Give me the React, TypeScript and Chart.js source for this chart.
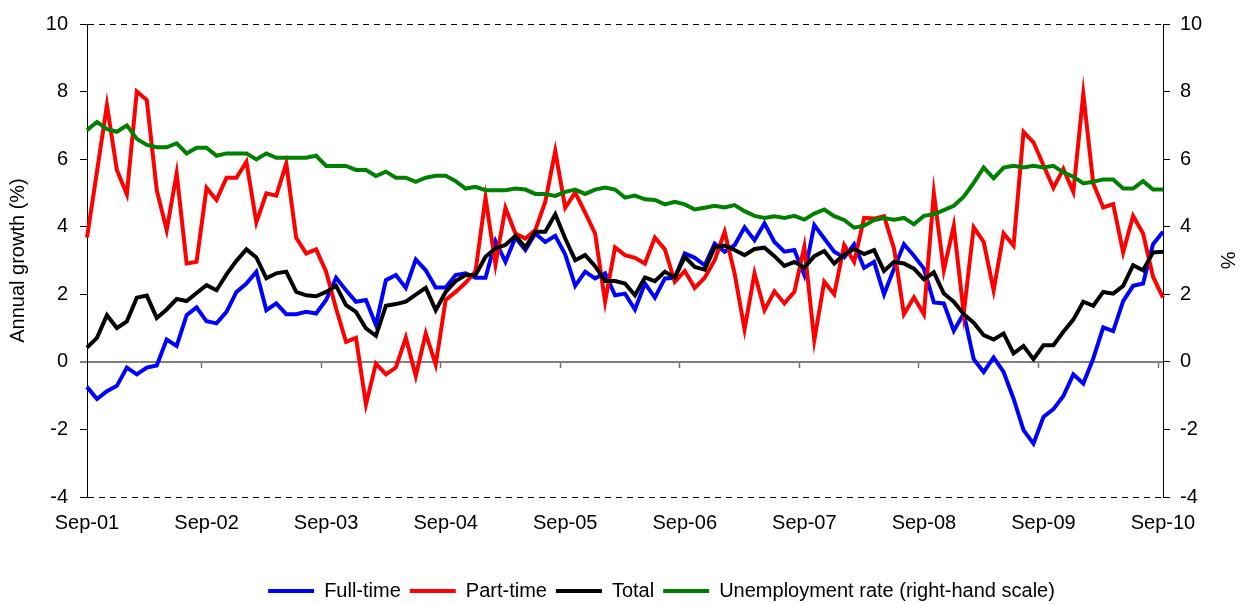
import React, { useEffect, useRef } from 'react';
import { Chart, registerables } from 'chart.js';

Chart.register(...registerables);

// ---------- data ----------
const MONTH_NAMES = ['Jan', 'Feb', 'Mar', 'Apr', 'May', 'Jun', 'Jul', 'Aug', 'Sep', 'Oct', 'Nov', 'Dec'];
const START_MONTH = 8; // Sep
const START_YEAR = 1; // 2001
const N_MONTHS = 109; // Sep-01 .. Sep-10

const categories: string[] = [];
for (let k = 0; k < N_MONTHS; k++) {
  const m = (START_MONTH + k) % 12;
  const y = START_YEAR + Math.floor((START_MONTH + k) / 12);
  categories.push(`${MONTH_NAMES[m]}-${String(y).padStart(2, '0')}`);
}
const LABEL_EVERY = 12;

const yTickMin = -4;
const yTickMax = 10;
const yTickStep = 2;

const fullTime = [
  -0.74, -1.1, -0.87, -0.71, -0.17, -0.37, -0.17, -0.11, 0.66, 0.47,
  1.38, 1.61, 1.2, 1.14, 1.48, 2.07, 2.32, 2.67, 1.53, 1.73,
  1.41, 1.41, 1.48, 1.43, 1.83, 2.49, 2.12, 1.78, 1.83, 1.09,
  2.42, 2.57, 2.19, 3.03, 2.71, 2.2, 2.2, 2.57, 2.62, 2.49,
  2.49, 3.57, 2.96, 3.68, 3.31, 3.8, 3.55, 3.73, 3.18, 2.25,
  2.67, 2.47, 2.62, 1.97, 2.02, 1.55, 2.32, 1.9, 2.47, 2.49,
  3.21, 3.08, 2.86, 3.5, 3.26, 3.45, 3.98, 3.6, 4.1, 3.55,
  3.26, 3.31, 2.57, 4.05, 3.65, 3.26, 3.09, 3.48, 2.78, 2.96,
  2.0, 2.76, 3.48, 3.14, 2.76, 1.76, 1.73, 0.92, 1.43, 0.08,
  -0.3, 0.13, -0.3, -1.09, -2.02, -2.42, -1.63, -1.4, -1.01, -0.37,
  -0.64, 0.1, 1.02, 0.91, 1.8, 2.25, 2.32, 3.48, 3.85,
];

const partTime = [
  3.68, 5.63, 7.6, 5.68, 4.96, 8.0, 7.75, 5.08, 3.9, 5.58,
  2.91, 2.96, 5.15, 4.79, 5.45, 5.45, 5.92, 4.13, 4.99, 4.92,
  5.87, 3.67, 3.21, 3.33, 2.67, 1.58, 0.59, 0.71, -1.26, -0.05,
  -0.37, -0.17, 0.72, -0.42, 0.84, -0.08, 1.83, 2.07, 2.34, 2.69,
  4.86, 2.88, 4.56, 3.8, 3.65, 3.9, 4.74, 6.24, 4.56, 5.01,
  4.42, 3.8, 1.78, 3.39, 3.16, 3.08, 2.91, 3.68, 3.33, 2.37,
  2.69, 2.19, 2.49, 3.01, 3.85, 2.62, 0.96, 2.62, 1.53, 2.09,
  1.73, 2.07, 3.41, 0.64, 2.37, 2.0, 3.46, 2.96, 4.26, 4.24,
  4.31, 3.36, 1.41, 1.91, 1.41, 4.99, 2.71, 4.03, 1.43, 3.98,
  3.55, 2.12, 3.8, 3.44, 6.81, 6.5, 5.82, 5.15, 5.71, 5.03,
  7.93, 5.28, 4.57, 4.67, 3.24, 4.32, 3.8, 2.52, 1.9,
];

const total = [
  0.42, 0.71, 1.38, 1.0, 1.2, 1.9, 1.96, 1.3, 1.55, 1.86,
  1.8, 2.04, 2.27, 2.12, 2.59, 2.99, 3.33, 3.09, 2.47, 2.62,
  2.67, 2.07, 1.97, 1.94, 2.07, 2.25, 1.68, 1.48, 0.99, 0.77,
  1.66, 1.71, 1.78, 1.99, 2.19, 1.53, 2.07, 2.39, 2.57, 2.57,
  3.11, 3.36, 3.46, 3.73, 3.39, 3.85, 3.85, 4.37, 3.65, 3.01,
  3.16, 2.83, 2.39, 2.39, 2.32, 1.97, 2.5, 2.39, 2.67, 2.49,
  3.11, 2.81, 2.73, 3.39, 3.44, 3.31, 3.16, 3.34, 3.38, 3.13,
  2.84, 2.96, 2.79, 3.13, 3.28, 2.91, 3.18, 3.34, 3.19, 3.31,
  2.69, 2.96, 2.91, 2.76, 2.44, 2.65, 2.02, 1.78, 1.41, 1.16,
  0.79, 0.66, 0.84, 0.25, 0.47, 0.08, 0.49, 0.49, 0.89, 1.25,
  1.78, 1.66, 2.07, 2.02, 2.25, 2.86, 2.71, 3.24, 3.26,
];

const unemployment = [
  6.86, 7.1, 6.89, 6.81, 7.0, 6.6, 6.42, 6.35, 6.35, 6.47,
  6.17, 6.34, 6.34, 6.1, 6.17, 6.17, 6.17, 5.99, 6.17, 6.04,
  6.04, 6.04, 6.04, 6.1, 5.8, 5.8, 5.8, 5.68, 5.68, 5.5,
  5.63, 5.45, 5.45, 5.33, 5.45, 5.51, 5.51, 5.35, 5.13, 5.18,
  5.08, 5.08, 5.08, 5.13, 5.1, 4.97, 4.97, 4.91, 5.03, 5.1,
  4.97, 5.1, 5.16, 5.1, 4.86, 4.92, 4.81, 4.79, 4.66, 4.74,
  4.66, 4.51, 4.56, 4.62, 4.57, 4.64, 4.46, 4.32, 4.26, 4.31,
  4.26, 4.32, 4.21, 4.39, 4.51, 4.31, 4.2, 3.97, 4.03, 4.2,
  4.26, 4.21, 4.26, 4.07, 4.32, 4.37, 4.49, 4.62, 4.89, 5.3,
  5.75, 5.43, 5.75, 5.8, 5.75, 5.8, 5.75, 5.8, 5.61, 5.48,
  5.28, 5.33, 5.4, 5.4, 5.13, 5.13, 5.35, 5.1, 5.1,
];

const seriesNames = ['Full-time', 'Part-time', 'Total', 'Unemployment rate (right-hand scale)'];
const axisTitleLeft = 'Annual growth (%)';
const axisTitleRight = '%';

// ---------- styling ----------
const FONT = '"Liberation Sans", Arial, Helvetica, sans-serif';
const FONT_SIZE = 20;
const LEGEND_SHIFT = 40;

const legendShiftPlugin = {
  id: 'legendShift',
  afterLayout(chart: any) {
    const lg = chart.legend;
    if (lg) {
      lg.left += LEGEND_SHIFT;
      lg.right += LEGEND_SHIFT;
    }
  },
};

export default function App() {
  const canvasRef = useRef<HTMLCanvasElement | null>(null);

  useEffect(() => {
    if (!canvasRef.current) return;
    Chart.defaults.font.family = FONT;
    Chart.defaults.font.size = FONT_SIZE;
    Chart.defaults.color = '#000';

    const mk = (label: string, data: number[], color: string, order: number, yAxisID = 'y') => ({
      label,
      data,
      borderColor: color,
      backgroundColor: color,
      borderWidth: 4,
      pointRadius: 0,
      pointHoverRadius: 0,
      pointStyle: 'line',
      tension: 0,
      fill: false,
      order,
      xAxisID: 'x',
      yAxisID,
    });

    const tickMarks: number[] = [];
    for (let k = LABEL_EVERY; k <= N_MONTHS - 1; k += LABEL_EVERY) tickMarks.push(k - 0.5);

    const chart = new Chart(canvasRef.current, {
      type: 'line',
      data: {
        labels: categories,
        datasets: [
          mk(seriesNames[0], fullTime, '#0000FF', 4),
          mk(seriesNames[1], partTime, '#FF0000', 3),
          mk(seriesNames[2], total, '#000000', 2),
          mk(seriesNames[3], unemployment, '#008000', 1, 'y2'),
        ],
      },
      options: {
        responsive: true,
        maintainAspectRatio: false,
        animation: false,
        events: [],
        layout: { padding: { top: 22, left: 0, right: 0, bottom: -7 } },
        plugins: {
          tooltip: { enabled: false },
          legend: {
            position: 'bottom',
            labels: {
              usePointStyle: true,
              pointStyle: 'line',
              pointStyleWidth: 46,
              color: '#000',
              font: { size: FONT_SIZE, family: FONT },
              padding: 9,
              sort: (a: any, b: any) => a.datasetIndex - b.datasetIndex,
            },
          },
        },
        scales: {
          x: {
            type: 'category',
            offset: false,
            grid: { display: false, drawTicks: false },
            border: { display: false },
            ticks: {
              autoSkip: false,
              maxRotation: 0,
              minRotation: 0,
              padding: 14,
              color: '#000',
              font: { size: FONT_SIZE },
              callback: (_v: any, idx: number) => (idx % LABEL_EVERY === 0 ? categories[idx] : null),
            },
            afterFit: (s: any) => {
              s.height = 75;
            },
          },
          x2: {
            type: 'linear',
            position: { y: 0 },
            min: 0,
            max: N_MONTHS - 1,
            afterBuildTicks: (s: any) => {
              s.ticks = tickMarks.map((v) => ({ value: v }));
            },
            ticks: { display: false },
            grid: {
              drawOnChartArea: false,
              drawTicks: true,
              tickLength: 6,
              tickColor: '#707070',
              tickWidth: 1.5,
            },
            border: { display: false },
          },
          y: {
            position: 'left',
            min: yTickMin,
            max: yTickMax,
            ticks: { stepSize: yTickStep, padding: 12, color: '#000', font: { size: FONT_SIZE } },
            grid: {
              color: (ctx: any) => {
                const v = ctx.tick ? ctx.tick.value : null;
                if (v === 0) return '#808080';
                if (v === yTickMin || v === yTickMax) return '#000';
                return 'rgba(0,0,0,0)';
              },
              lineWidth: (ctx: any) => (ctx.tick && ctx.tick.value === 0 ? 2 : 1),
              tickColor: '#000',
              tickLength: 7,
              tickWidth: 1,
            },
            border: {
              display: true,
              color: '#000',
              width: 1,
              dash: (ctx: any) => (ctx.tick && ctx.tick.value !== 0 ? [6, 5] : []),
            },
            title: {
              display: true,
              text: axisTitleLeft,
              color: '#000',
              font: { size: FONT_SIZE },
              padding: { top: 6, bottom: 0 },
            },
            afterFit: (s: any) => {
              s.width = 87;
            },
          },
          y2: {
            position: 'right',
            min: yTickMin,
            max: yTickMax,
            ticks: { stepSize: yTickStep, padding: 10, color: '#000', font: { size: FONT_SIZE } },
            grid: {
              drawOnChartArea: false,
              tickColor: '#000',
              tickLength: 7,
              tickWidth: 1,
            },
            border: { display: true, color: '#000', width: 1 },
            title: {
              display: true,
              text: axisTitleRight,
              color: '#000',
              font: { size: FONT_SIZE },
              padding: { top: 4, bottom: 2 },
            },
            afterFit: (s: any) => {
              s.width = 80;
            },
          },
        },
      } as any,
      plugins: [legendShiftPlugin],
    });

    return () => {
      chart.destroy();
    };
  }, []);

  return (
    <div
      style={{
        position: 'fixed',
        left: 0,
        top: 0,
        width: 1243,
        height: 604,
        background: '#fff',
      }}
    >
      <canvas ref={canvasRef} />
    </div>
  );
}
